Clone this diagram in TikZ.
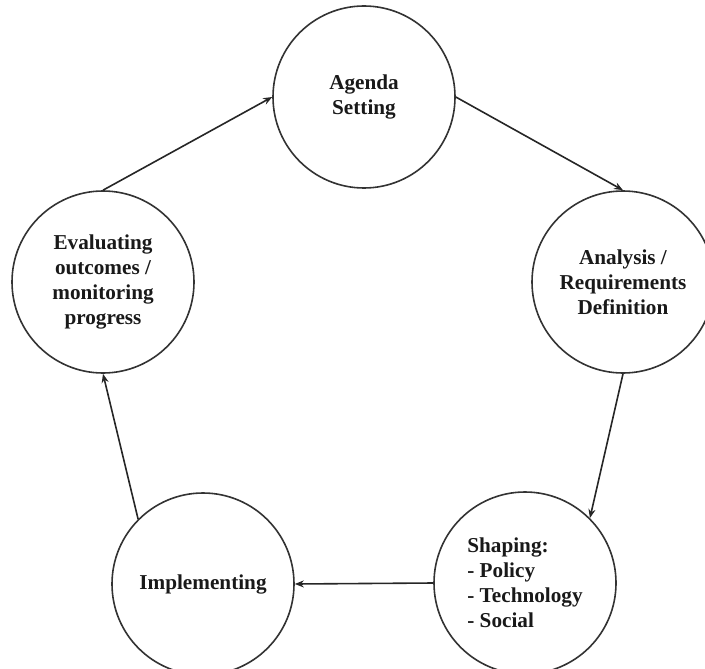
\documentclass[tikz,border=0pt]{standalone}
\usepackage{fontspec}
\setmainfont{Liberation Serif}
\usetikzlibrary{arrows.meta}
\begin{document}
\begin{tikzpicture}[
        x=0.5pt, y=-0.5pt,
        phase/.style={circle, draw=black!80, line width=0.8pt, minimum size=91pt,
                      inner sep=0pt, align=center, text=black!90,
                      font=\bfseries\fontsize{10.6}{12.5}\selectfont},
        flow/.style={-{Stealth[length=4.5pt, width=3.5pt]}, line width=0.8pt, black!85}
    ]
    % Ohraničení obrázku
    \useasboundingbox (0,0) rectangle (705,668);

    % Fáze cyklu
    \node[phase] (agenda) at (364,97) {Agenda\\Setting};
    \node[phase] (analysis) at (623,282) {Analysis /\\Requirements\\Definition};
    \node[phase, align=left] (shaping) at (525,583)
        {Shaping:\\- Policy\\- Technology\\- Social};
    \node[phase] (implementing) at (203,584) {Implementing};
    \node[phase] (evaluating) at (103,282)
        {Evaluating\\outcomes /\\monitoring\\progress};

    % Šipky mezi fázemi
    \draw[flow] (evaluating.north) -- (agenda.west);
    \draw[flow] (agenda.east) -- (analysis.north);
    \draw[flow] (analysis.south) -- (shaping.north east);
    \draw[flow] (shaping.west) -- (implementing.east);
    \draw[flow] (implementing.north west) -- (evaluating.south);

\end{tikzpicture}
\end{document}
